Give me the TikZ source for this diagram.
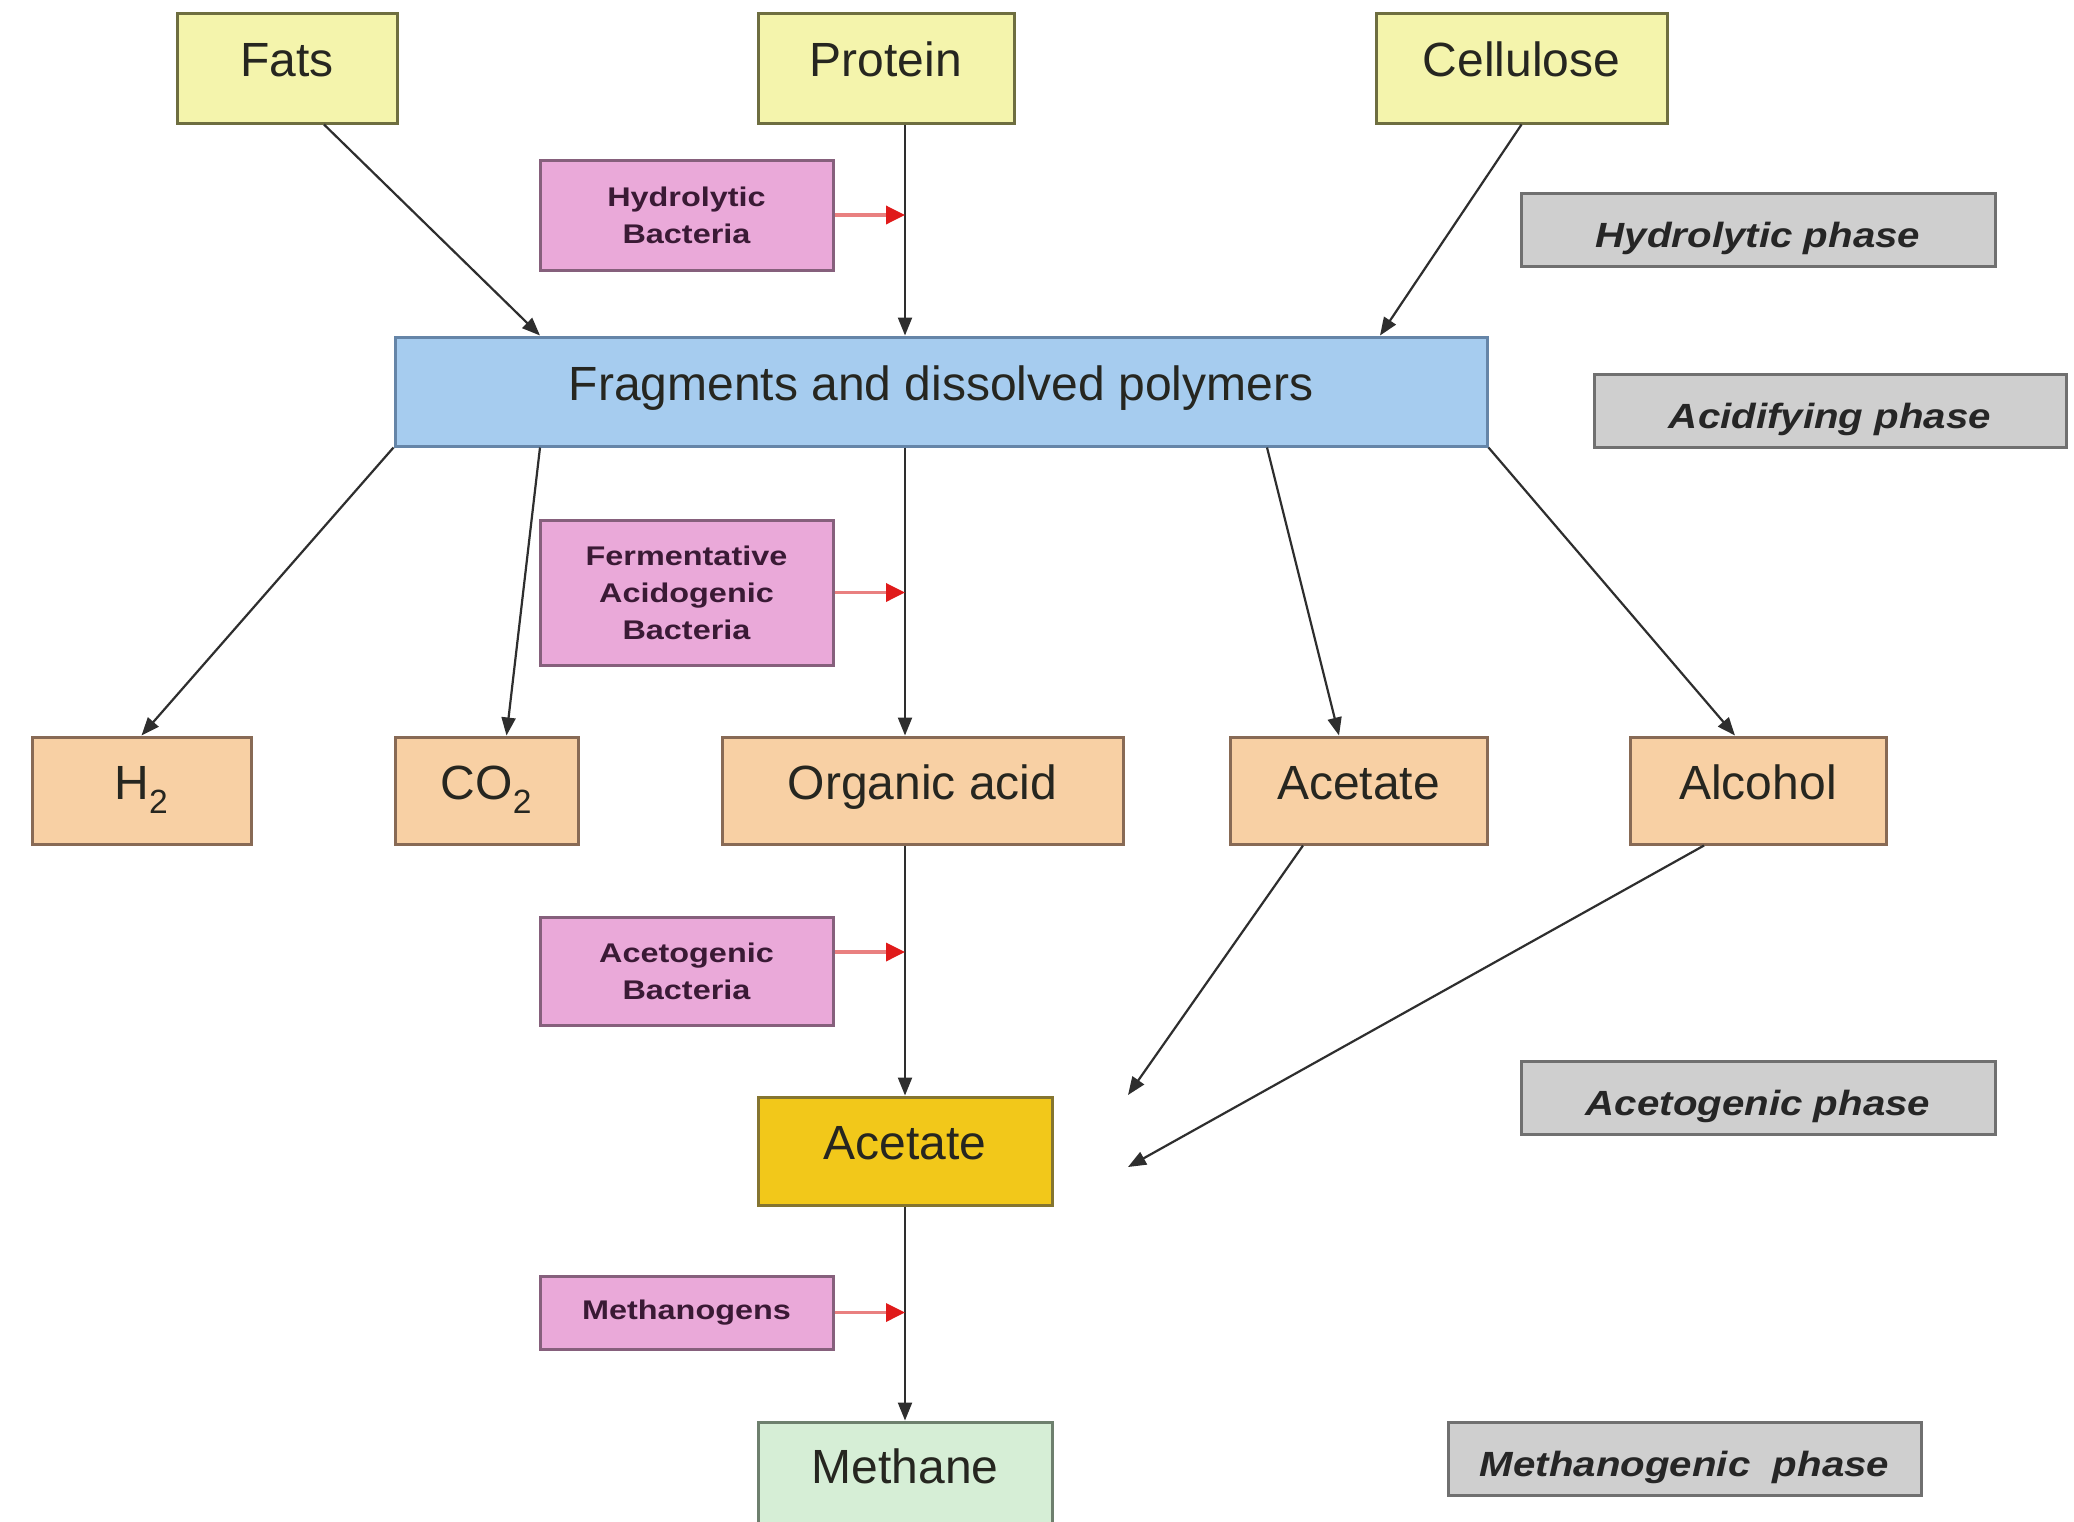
\documentclass[tikz,border=0pt]{standalone}
\usepackage{fontspec}
\setmainfont{Liberation Sans}
\newfontfamily\bactfont[FakeStretch=1.2]{Liberation Sans}
\newfontfamily\phasefont[FakeStretch=1.15]{Liberation Sans}
\usetikzlibrary{arrows.meta}
\definecolor{yelfill}{HTML}{F4F4AC}
\definecolor{yelbord}{HTML}{6E6E40}
\definecolor{pinkfill}{HTML}{EAA9D9}
\definecolor{pinkbord}{HTML}{86607C}
\definecolor{bluefill}{HTML}{A6CCEF}
\definecolor{bluebord}{HTML}{6585A8}
\definecolor{peachfill}{HTML}{F8D0A4}
\definecolor{peachbord}{HTML}{886A55}
\definecolor{goldfill}{HTML}{F2C81A}
\definecolor{goldbord}{HTML}{857530}
\definecolor{greenfill}{HTML}{D6EED6}
\definecolor{greenbord}{HTML}{6E806E}
\definecolor{grayfill}{HTML}{CFCFCF}
\definecolor{graybord}{HTML}{707070}
\definecolor{linecol}{HTML}{2E2E2E}
\definecolor{redline}{HTML}{E98080}
\definecolor{redhead}{HTML}{E01A1A}
\definecolor{bacttext}{HTML}{3A1A35}
\definecolor{maintext}{HTML}{262620}
\tikzset{
  mainbox/.style={draw, line width=3pt, rectangle, inner sep=0pt, minimum height=110pt,
    text height=37pt, text depth=20pt, text=maintext, font=\fontsize{48}{52}\selectfont},
  yelbox/.style={mainbox, fill=yelfill, draw=yelbord},
  peachbox/.style={mainbox, fill=peachfill, draw=peachbord, minimum height=107pt},
  bactbox/.style={draw=pinkbord, fill=pinkfill, line width=3pt, rectangle, inner sep=0pt,
    minimum width=293pt, align=center, text=bacttext,
    font=\bactfont\bfseries\fontsize{27}{37}\selectfont},
  phasebox/.style={draw=graybord, fill=grayfill, line width=3pt, rectangle, inner sep=0pt,
    minimum height=73pt, text height=38pt, text depth=3pt, text=black!85,
    font=\phasefont\bfseries\itshape\fontsize{35}{40}\selectfont},
  conn/.style={draw=linecol, line width=2.2pt, -{Triangle[length=18pt,width=14pt]}},
  redconn/.style={draw=redline, line width=3.5pt, -{Triangle[length=19pt,width=18pt,color=redhead]}}
}
\begin{document}
\begin{tikzpicture}[x=1pt,y=-1pt]
\useasboundingbox (0,0) rectangle (2074,1521);
\clip (0,0) rectangle (2074,1521);
\fill[white] (0,0) rectangle (2074,1521);

% top row
\node[yelbox, minimum width=220pt] (fats) at (287,68) {Fats};
\node[yelbox, minimum width=256pt] (protein) at (886,68) {Protein};
\node[yelbox, minimum width=291pt] (cellulose) at (1521.5,68) {Cellulose};

\node[bactbox, minimum height=110pt] (hb) at (686.5,215) {Hydrolytic\\Bacteria};
\node[phasebox, minimum width=474pt] (hp) at (1758,229.5) {Hydrolytic phase};

\node[mainbox, fill=bluefill, draw=bluebord, minimum width=1092pt, minimum height=109pt] (frag) at (941,391.5) {Fragments and dissolved polymers};
\node[phasebox, minimum width=472pt] (ap) at (1830,410.5) {Acidifying phase};

\node[bactbox, minimum height=145pt] (fb) at (686.5,592.5) {Fermentative\\Acidogenic\\Bacteria};

% product row
\node[peachbox, minimum width=219pt] (h2) at (141.5,790.5) {H\textsubscript{2}};
\node[peachbox, minimum width=183pt] (co2) at (486.5,790.5) {CO\textsubscript{2}};
\node[peachbox, minimum width=401pt] (organic) at (922.5,790.5) {Organic acid};
\node[peachbox, minimum width=257pt] (acetA) at (1358.5,790.5) {Acetate};
\node[peachbox, minimum width=256pt] (alcohol) at (1758,790.5) {Alcohol};

\node[bactbox, minimum height=108pt] (ab) at (686.5,971) {Acetogenic\\Bacteria};
\node[mainbox, fill=goldfill, draw=goldbord, minimum width=294pt, minimum height=108pt] (acetB) at (905,1151) {Acetate};
\node[phasebox, minimum width=474pt] (acp) at (1758,1097.5) {Acetogenic phase};

\node[bactbox, minimum height=73pt] (mb) at (686.5,1312.5) {Methanogens};
\node[mainbox, fill=greenfill, draw=greenbord, minimum width=294pt, minimum height=105pt] (methane) at (905,1474.5) {Methane};
\node[phasebox, minimum width=473pt] (mp) at (1684.5,1458.5) {Methanogenic\ \ phase};

\coordinate (endA) at (1128,1095);
\coordinate (endB) at (1128,1167);

% connectors
\draw[conn] ([xshift=37pt]fats.south) -- ([xshift=-401pt]frag.north);
\draw[conn] ([xshift=19pt]protein.south) -- ([xshift=-36pt]frag.north);
\draw[conn] (cellulose.south) -- ([xshift=439pt]frag.north);

\draw[conn] (frag.south west) -- (h2.north);
\draw[conn] ([xshift=-401pt]frag.south) -- ([xshift=20pt]co2.north);
\draw[conn] ([xshift=-36pt]frag.south) -- ([xshift=-17.5pt]organic.north);
\draw[conn] ([xshift=326pt]frag.south) -- ([xshift=-19.5pt]acetA.north);
\draw[conn] (frag.south east) -- ([xshift=-23pt]alcohol.north);

\draw[conn] ([xshift=-17.5pt]organic.south) -- (acetB.north);
\draw[conn] (acetB.south) -- (methane.north);
\draw[conn] ([xshift=-55.5pt]acetA.south) -- (endA);
\draw[conn] ([xshift=-54pt]alcohol.south) -- (endB);

% bacteria arrows
\draw[redconn] (hb.east) -- (hb.east -| acetB.center);
\draw[redconn] (fb.east) -- (fb.east -| acetB.center);
\draw[redconn] ([yshift=19pt]ab.east) -- ([yshift=19pt]ab.east -| acetB.center);
\draw[redconn] (mb.east) -- (mb.east -| acetB.center);
\end{tikzpicture}
\end{document}
